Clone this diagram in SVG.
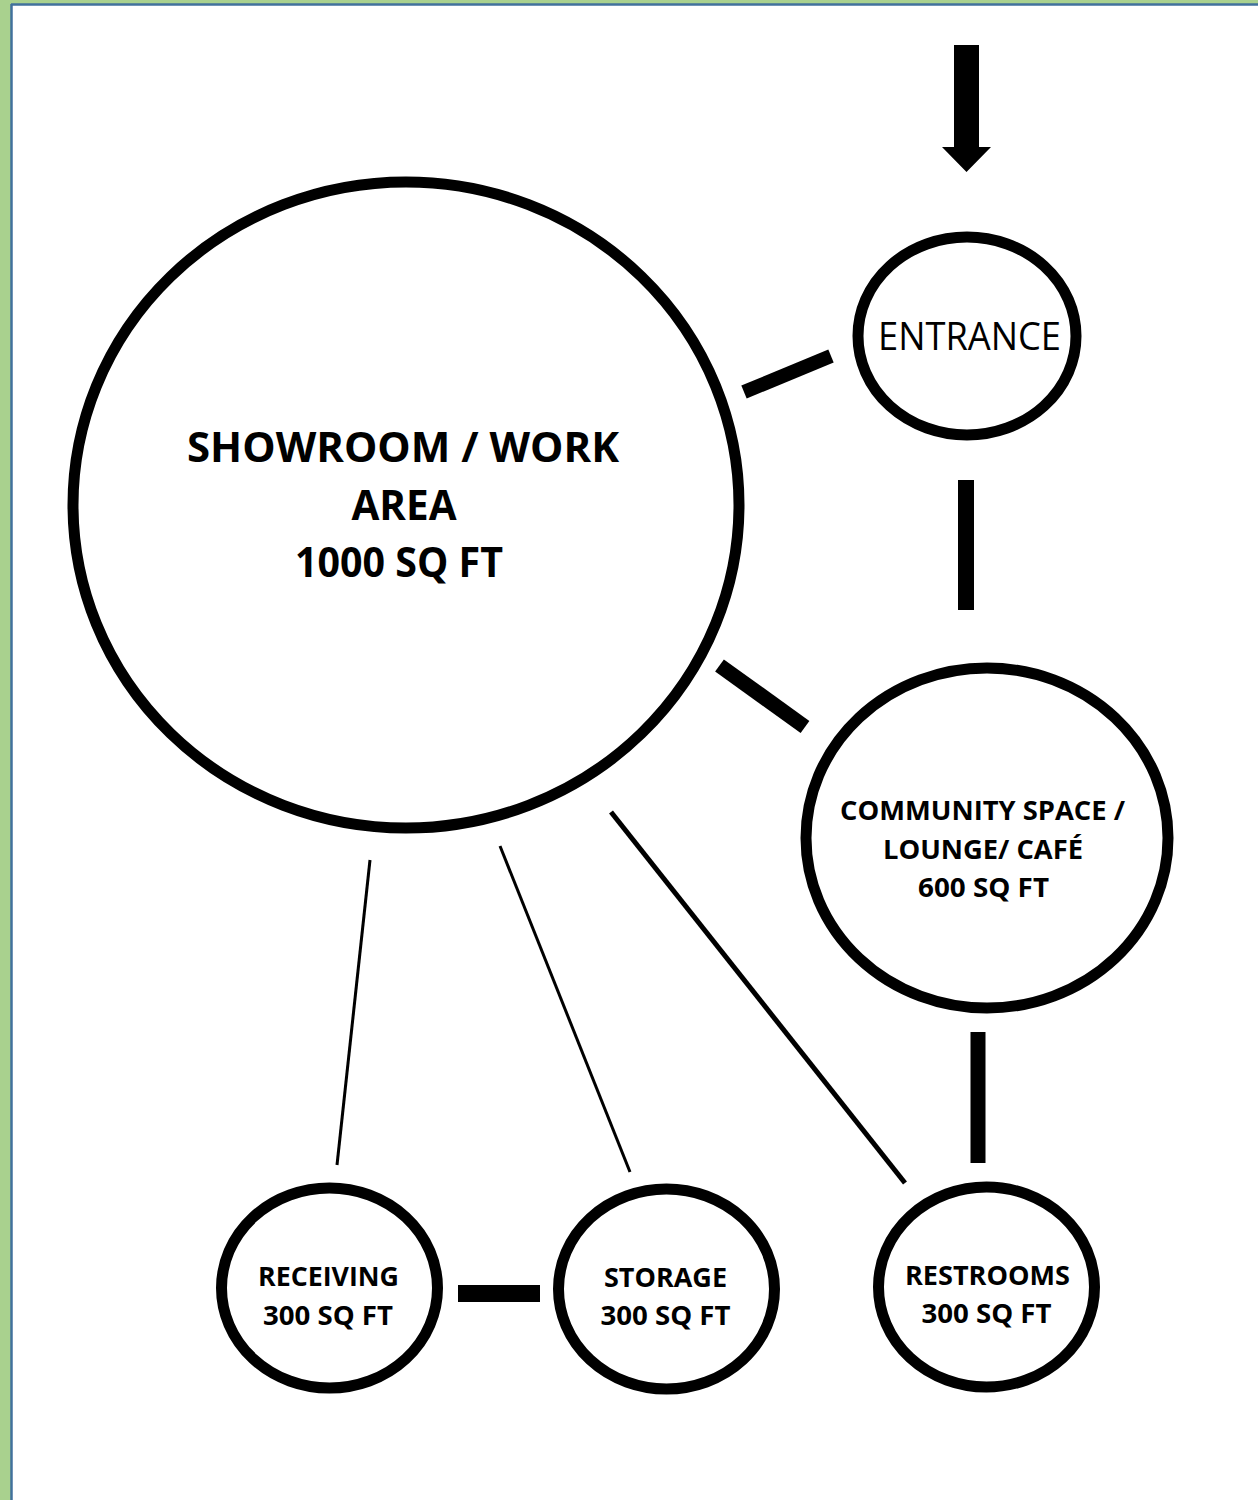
<svg xmlns="http://www.w3.org/2000/svg" width="1258" height="1500" viewBox="0 0 1258 1500">
<style>
.node{fill:#fff;stroke:#000;stroke-width:11}
.t{font-family:"Open Sans",Lato,"Liberation Sans",sans-serif;fill:#000;text-anchor:middle}
.b{font-weight:bold}
.thick{stroke:#000;stroke-linecap:butt}
</style>
<rect x="0" y="0" width="1258" height="1500" fill="#fff"/>
<g id="frame">
<rect x="0" y="0" width="11" height="1500" fill="#A9D18E"/>
<rect x="0" y="0" width="1258" height="4" fill="#A9D18E"/>
<line x1="11.5" y1="4" x2="11.5" y2="1500" stroke="#41719C" stroke-width="2.5"/>
<line x1="11" y1="4.5" x2="1258" y2="4.5" stroke="#41719C" stroke-width="2.5"/>
</g>
<g id="connectors">
<polygon id="entry-arrow" points="954,45 979,45 979,147 991,147 966.5,172 942,147 954,147" fill="#000"/>
<line class="thick" x1="744" y1="392" x2="831" y2="356" stroke-width="14"/>
<line class="thick" x1="966" y1="480" x2="966" y2="610" stroke-width="16"/>
<line class="thick" x1="719.5" y1="665.5" x2="805" y2="727" stroke-width="15"/>
<line class="thick" x1="978" y1="1032" x2="978" y2="1163" stroke-width="15"/>
<line class="thick" x1="458" y1="1293.5" x2="540" y2="1293.5" stroke-width="17"/>
<line class="thick" x1="370" y1="860" x2="337" y2="1165" stroke-width="3"/>
<line class="thick" x1="500" y1="846" x2="630" y2="1172" stroke-width="3"/>
<line class="thick" x1="611" y1="812" x2="905" y2="1183" stroke-width="5"/>
</g>
<g id="showroom">
<ellipse class="node" cx="406" cy="505" rx="333" ry="323"/>
<text class="t b" font-size="41" x="403" y="462" textLength="432" lengthAdjust="spacingAndGlyphs">SHOWROOM / WORK</text>
<text class="t b" font-size="41" x="404" y="520" textLength="105" lengthAdjust="spacingAndGlyphs">AREA</text>
<text class="t b" font-size="41" x="399" y="577" textLength="208" lengthAdjust="spacingAndGlyphs">1000 SQ FT</text>
</g>
<g id="entrance">
<ellipse class="node" cx="967" cy="336" rx="109" ry="99"/>
<text class="t" font-size="38" x="969.5" y="350" textLength="183" lengthAdjust="spacingAndGlyphs">ENTRANCE</text>
</g>
<g id="community">
<ellipse class="node" cx="987" cy="838" rx="181" ry="170"/>
<text class="t b" font-size="26" x="982.5" y="820" textLength="285" lengthAdjust="spacingAndGlyphs">COMMUNITY SPACE /</text>
<text class="t b" font-size="26" x="983" y="859" textLength="200" lengthAdjust="spacingAndGlyphs">LOUNGE/ CAFÉ</text>
<text class="t b" font-size="26" x="983.5" y="897" textLength="131" lengthAdjust="spacingAndGlyphs">600 SQ FT</text>
</g>
<g id="receiving">
<ellipse class="node" cx="329.5" cy="1288" rx="108" ry="100"/>
<text class="t b" font-size="26" x="328.5" y="1286" textLength="141" lengthAdjust="spacingAndGlyphs">RECEIVING</text>
<text class="t b" font-size="26" x="328" y="1325" textLength="130" lengthAdjust="spacingAndGlyphs">300 SQ FT</text>
</g>
<g id="storage">
<ellipse class="node" cx="666.5" cy="1289" rx="108" ry="100"/>
<text class="t b" font-size="26" x="665.5" y="1287" textLength="123" lengthAdjust="spacingAndGlyphs">STORAGE</text>
<text class="t b" font-size="26" x="665.5" y="1325" textLength="130" lengthAdjust="spacingAndGlyphs">300 SQ FT</text>
</g>
<g id="restrooms">
<ellipse class="node" cx="986.5" cy="1287" rx="108" ry="100"/>
<text class="t b" font-size="26" x="987.5" y="1285" textLength="165" lengthAdjust="spacingAndGlyphs">RESTROOMS</text>
<text class="t b" font-size="26" x="986.5" y="1323" textLength="130" lengthAdjust="spacingAndGlyphs">300 SQ FT</text>
</g>
</svg>
